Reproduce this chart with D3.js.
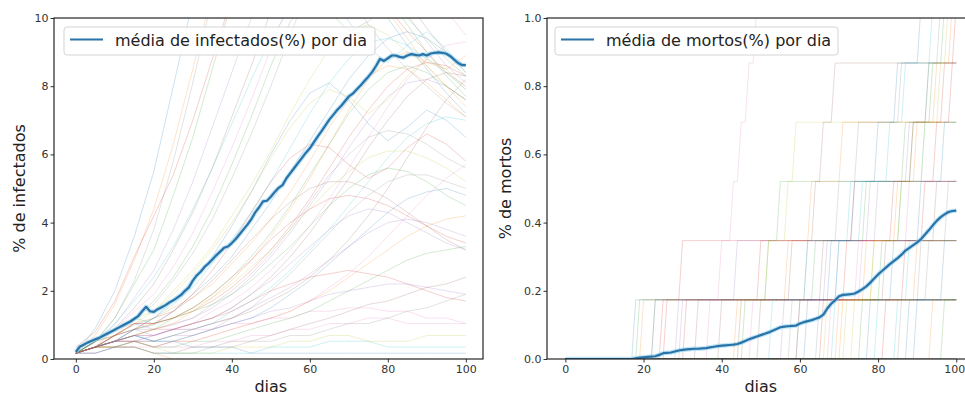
<!DOCTYPE html>
<html><head><meta charset="utf-8">
<script src="https://cdn.jsdelivr.net/npm/d3@7"></script>
<style>
html,body{margin:0;padding:0;background:#fff;}
svg{display:block;font-family:"DejaVu Sans",sans-serif;}
</style></head>
<body><svg id="c" width="965" height="397"></svg>
<script>
// ---------- DATA ----------
const days = d3.range(0, 101);                       // 0..100
const sampleDays = [0,5,10,15,20,25,30,35,40,45,50,55,60,65,70,75,80,85,90,95,100];
const xTicks = [0,20,40,60,80,100];
const yTicksInf = [0,2,4,6,8,10];
const yTicksDead = [0,0.2,0.4,0.6,0.8,1.0];
const legendInf = "média de infectados(%) por dia";
const legendDead = "média de mortos(%) por dia";
const xLabel = "dias";
const yLabelInf = "% de infectados";
const yLabelDead = "% de mortos";
const deathStep = 0.1736;   // one death in % of population

const meanInfected = [0.21,0.36,0.42,0.48,0.53,0.58,0.62,0.68,0.74,0.80,
 0.86,0.92,0.98,1.04,1.10,1.18,1.26,1.40,1.53,1.40,
 1.38,1.46,1.52,1.58,1.66,1.72,1.80,1.88,2.00,2.10,
 2.30,2.45,2.56,2.70,2.80,2.92,3.04,3.15,3.26,3.30,
 3.40,3.52,3.66,3.80,3.94,4.10,4.30,4.45,4.62,4.64,
 4.76,4.90,5.02,5.10,5.30,5.45,5.60,5.75,5.90,6.05,
 6.18,6.35,6.52,6.68,6.85,7.02,7.16,7.30,7.42,7.56,
 7.70,7.78,7.90,8.02,8.15,8.28,8.42,8.60,8.80,8.74,
 8.82,8.90,8.90,8.86,8.84,8.90,8.94,8.92,8.90,8.94,
 8.90,8.96,8.98,8.99,8.98,8.95,8.88,8.78,8.68,8.62,8.62];

const meanDeaths = [0,0,0,0,0,0,0,0,0,0,
 0,0,0,0,0,0,0,0,0.002,0.004,
 0.005,0.006,0.007,0.008,0.012,0.017,0.018,0.019,0.022,0.025,
 0.027,0.028,0.029,0.030,0.030,0.031,0.032,0.034,0.036,0.038,
 0.039,0.040,0.041,0.042,0.044,0.048,0.053,0.058,0.062,0.066,
 0.070,0.074,0.078,0.083,0.088,0.093,0.095,0.096,0.097,0.098,
 0.104,0.108,0.111,0.114,0.118,0.122,0.130,0.148,0.162,0.172,
 0.184,0.188,0.189,0.190,0.192,0.198,0.205,0.213,0.224,0.236,
 0.248,0.258,0.268,0.278,0.287,0.296,0.306,0.318,0.326,0.334,
 0.342,0.352,0.365,0.378,0.392,0.405,0.416,0.424,0.431,0.434,0.435];

// individual runs: infected % at sampleDays
const infectedRuns = [
 [.17,.9,2.0,3.6,5.5,8.0,10.5,13,15,16,16,15,14,13,12,11,10,9.2,8.5,7.8,7.2],
 [.17,.7,1.6,2.9,4.4,6.3,8.5,10.8,13,14.5,15,14.8,14,13,12,11,10.2,9.4,8.6,8.0,7.4],
 [.17,.5,1.2,2.2,3.2,4.8,6.5,8.5,10.5,12.5,14,14.5,14.2,13.5,12.6,11.6,10.6,9.8,9.0,8.3,7.7],
 [.35,.8,1.7,3.0,4.2,5.4,7.0,8.8,10.6,12.2,13.4,14,13.8,13.1,12.2,11.2,10.3,9.6,9.0,8.4,8.0],
 [.17,.5,1.0,1.8,2.6,3.8,5.2,6.8,8.4,10.0,11.8,13,13.6,13.5,12.8,11.9,11,10.1,9.3,8.6,8.1],
 [.17,.35,.9,1.5,2.2,3.2,4.3,5.6,7.1,8.6,10.2,11.6,12.6,13,12.8,12.1,11.3,10.5,9.7,9.0,8.4],
 [.17,.52,.87,1.4,1.9,2.7,3.7,4.9,6.2,7.6,9.1,10.6,12,13,13.4,13.2,12.6,11.8,11,10.2,9.5],
 [.17,.35,.7,1.2,1.6,2.3,3.1,4.1,5.3,6.6,8.0,9.5,11,12.4,13.5,14,13.8,13.2,12.4,11.6,10.8],
 [.17,.52,.87,1.2,1.4,2.0,2.6,3.3,4.2,5.1,6.1,7.2,8.2,9.1,9.6,9.8,9.5,9.0,8.6,8.0,7.6],
 [.17,.35,.69,1.0,1.2,1.6,2.1,2.8,3.5,4.3,5.2,6.2,7.2,8.1,8.8,9.3,9.4,9.2,8.8,8.4,7.9],
 [.17,.35,.52,.87,1.0,1.4,1.9,2.4,3.0,3.8,4.6,5.5,6.4,7.3,8.2,8.9,9.4,9.6,9.4,9.0,8.6],
 [.17,.52,.69,1.04,1.2,1.5,1.8,2.2,2.8,3.4,4.1,4.9,5.8,6.8,7.6,8.3,8.6,8.5,8.1,7.6,7.1],
 [.17,.35,.52,.69,.87,1.2,1.5,1.9,2.4,3.0,3.7,4.5,5.4,6.3,7.2,7.9,8.4,8.6,8.4,8.0,7.6],
 [.17,.35,.69,.87,1.04,1.2,1.4,1.7,2.1,2.6,3.2,3.9,4.7,5.6,6.5,7.3,8.0,8.5,8.7,8.6,8.3],
 [.17,.52,.87,1.04,.87,1.0,1.2,1.5,1.9,2.4,3.0,3.7,4.5,5.3,6.2,7.0,7.7,8.1,8.2,8.0,7.6],
 [.17,.35,.52,.69,.69,.87,1.04,1.2,1.5,1.9,2.4,3.0,3.7,4.5,5.3,6.2,7.0,7.7,8.2,8.4,8.3],
 [.17,.35,.52,.52,.69,.87,1.04,1.4,1.7,2.1,2.6,3.2,3.9,4.7,5.6,6.5,7.4,8.2,8.8,9.2,9.3],
 [.17,.35,.69,.87,.87,1.04,1.2,1.6,2.0,2.5,3.1,3.8,4.6,5.4,6.0,6.5,6.7,6.6,6.3,5.9,5.6],
 [.17,.52,.69,.87,1.04,1.2,1.5,1.8,2.2,2.7,3.2,3.8,4.4,5.0,5.5,5.9,6.1,6.1,5.9,5.6,5.2],
 [.17,.35,.52,.69,.52,.69,.87,1.04,1.4,1.7,2.1,2.6,3.2,3.8,4.5,5.2,5.9,6.5,6.9,7.1,7.0],
 [.17,.35,.52,.69,.52,.52,.69,.87,1.04,1.2,1.5,1.9,2.3,2.8,3.3,3.8,4.3,4.7,4.9,5.0,4.8],
 [.17,.35,.52,.52,.35,.52,.52,.69,.87,1.04,1.2,1.4,1.7,2.0,2.4,2.8,3.2,3.6,3.9,4.1,4.2],
 [.17,.35,.35,.52,.35,.35,.52,.52,.69,.87,1.04,1.2,1.4,1.7,2.0,2.3,2.6,2.9,3.1,3.2,3.3],
 [.17,.35,.52,.69,.87,.87,1.04,1.2,1.4,1.7,2.0,2.2,2.4,2.5,2.6,2.5,2.4,2.2,2.0,1.8,1.7],
 [.17,.17,.35,.52,.52,.69,.69,.87,1.04,1.2,1.4,1.5,1.7,1.9,2.0,2.1,2.2,2.2,2.1,2.0,1.9],
 [.17,.35,.35,.35,.17,.17,.35,.35,.52,.52,.69,.87,1.04,1.2,1.4,1.6,1.7,1.9,2.1,2.2,2.4],
 [.17,.35,.52,.52,.35,.35,.35,.52,.52,.69,.69,.87,.87,1.04,1.04,1.2,1.2,1.04,1.04,1.04,1.04],
 [.17,.17,.35,.35,.17,.17,.17,.35,.35,.52,.52,.69,.69,.87,1.04,1.04,1.2,1.4,1.5,1.7,1.9],
 [.17,.35,.35,.52,.35,.17,.17,.17,.35,.35,.35,.52,.52,.69,.69,.52,.52,.52,.69,.69,.69],
 [.17,.17,.35,.35,.17,.17,.17,.17,.17,.17,.35,.35,.35,.52,.52,.52,.35,.35,.35,.35,.35],
 [.17,.35,.52,.69,.52,.52,.35,.35,.35,.17,.17,.17,.17,.17,.17,.17,.17,.17,.17,.17,.17],
 [.17,.35,.35,.35,.17,0,0,0,0,0,0,0,0,0,0,0,0,0,0,0,0],
 [.17,.52,.87,1.2,1.04,1.2,1.4,1.6,1.9,2.3,2.8,3.3,3.9,4.5,5.0,5.4,5.6,5.5,5.2,4.8,4.5],
 [.17,.35,.69,1.04,1.04,1.2,1.5,1.9,2.4,2.9,3.5,4.0,4.4,4.7,4.8,4.7,4.5,4.2,3.9,3.6,3.4],
 [.17,.52,.69,.87,.69,.87,.87,1.04,1.2,1.5,1.8,2.1,2.5,2.9,3.3,3.7,4.0,4.1,4.0,3.8,3.6],
 [.17,.35,.52,.87,1.2,1.4,1.8,2.3,2.9,3.5,4.1,4.6,5.0,5.2,5.2,5.0,4.7,4.3,3.9,3.5,3.2],
 [.17,.35,.52,.69,.69,.87,.87,.87,1.04,1.04,1.2,1.2,1.4,1.4,1.5,1.5,1.4,1.4,1.2,1.2,1.04],
 [.17,.35,.52,.52,.35,.52,.69,.87,1.2,1.5,2.0,2.5,3.1,3.7,4.3,4.8,5.2,5.4,5.4,5.2,5.0],
 [.17,.35,.69,1.04,1.4,1.9,2.5,3.2,4.0,4.9,5.9,6.8,7.5,7.9,7.7,7.2,7.6,8.3,8.8,8.5,7.9],
 [.17,.52,1.04,1.7,2.4,3.3,4.4,5.6,6.9,8.2,9.4,10.3,10.8,10.6,9.9,9.1,8.7,9.2,9.6,9.1,8.4],
 [.17,.35,.52,.87,1.2,1.7,2.3,3.0,3.9,4.9,6.0,7.0,7.8,8.1,7.6,6.9,6.4,6.8,7.3,7.0,6.5],
 [.17,.35,.52,.69,.87,1.04,1.4,1.8,2.3,2.9,3.6,4.4,5.3,6.3,7.3,8.2,8.8,9.0,8.7,8.5,8.9],
 [.17,.52,.87,1.2,1.7,2.4,3.3,4.4,5.7,7.1,8.6,9.9,10.5,10.2,9.6,9.9,10.4,10.0,9.4,8.8,8.3],
 [.17,.35,.69,1.04,1.04,1.4,1.9,2.6,3.4,4.3,5.2,5.9,6.3,6.2,5.7,5.3,5.6,6.2,6.6,6.3,5.8],
 [.17,.35,.52,.52,.69,.87,1.04,1.2,1.5,1.9,2.3,2.8,3.3,3.8,4.2,4.4,4.3,4.0,3.7,3.4,3.2],
 [.17,.35,.35,.52,.52,.69,.87,1.04,1.2,1.4,1.7,2.0,2.4,2.9,3.5,4.2,5.0,5.9,6.8,7.6,8.2],
 [.17,.17,.35,.35,.35,.52,.52,.69,.87,1.04,1.2,1.4,1.7,2.1,2.5,3.0,3.6,4.2,4.8,5.3,5.7],
 [.17,.52,1.2,2.3,3.8,5.8,8.1,10.6,12.8,14,14.2,13.6,12.7,11.7,10.7,9.8,9.1,8.5,8.0,7.5,7.1]
];

// individual runs: the days on which each death happened
const deathDays = [
 [18],[20],[23],[26],[30],[34],[45],[60],[72],[85],[90],[94],[97],
 [25,30],[29,44],[40,66],[48,76],[65,93],[67,79],[80,88],[88,97],[70,90],
 [19,52,55],[31,50,74],[56,70,78],[60,82,95],[68,75,88],[86,91,98],
 [45,52,57,59],[53,62,73,92],[78,84,91,97],[44,57,63,71],
 [46,64,77,87,94],[66,72,84,89,97],[23,67,80,88,93],[50,58,64,66,69],
 [37,40,43,45,47,49,60],[58,62,70,75,86,96,98],[74,79,86,92,96,98],
 [69,70,76,83,87,94],[62,68,74,80,85,91,96],[71,77,85,90,95,99],
 [76,81,86,89,93,97],[82,87,92,95,99,100],
 [],[],[],[],[],[]
];

const palette = ["#1f77b4","#ff7f0e","#2ca02c","#d62728","#9467bd","#8c564b","#e377c2","#7f7f7f","#bcbd22","#17becf"];

// ---------- DRAW ----------
const svg = d3.select("#c");
svg.append("rect").attr("width",965).attr("height",397).attr("fill","#fff");

function panel(cfg){
  const x = d3.scaleLinear().domain(cfg.xDomain).range(cfg.xRange);
  const y = d3.scaleLinear().domain(cfg.yDomain).range([359,18]);
  const g = svg.append("g");
  const clipId = "clip"+cfg.id;
  svg.append("clipPath").attr("id",clipId).append("rect")
    .attr("x",cfg.xRange[0]).attr("y",18)
    .attr("width",cfg.xRange[1]-cfg.xRange[0]).attr("height",341);
  const lines = g.append("g").attr("clip-path",`url(#${clipId})`);
  const lineGen = d3.line().x(d=>x(d[0])).y(d=>y(d[1]));
  cfg.runs.forEach((r,i)=>{
    lines.append("path").attr("d",lineGen(r)).attr("fill","none")
      .attr("stroke",palette[i%10]).attr("stroke-width",1).attr("stroke-opacity",0.22);
  });
  const meanPts = days.map((d,i)=>[d,cfg.mean[i]]);
  lines.append("path").attr("d",lineGen(meanPts)).attr("fill","none")
    .attr("stroke","#8fd0ee").attr("stroke-width",4.5).attr("stroke-opacity",0.55)
    .attr("stroke-linejoin","round");
  lines.append("path").attr("d",lineGen(meanPts)).attr("fill","none")
    .attr("stroke","#2873a8").attr("stroke-width",2.2).attr("stroke-linejoin","round");

  // axes
  const ax = g.append("g").attr("transform","translate(0,359)")
    .call(d3.axisBottom(x).tickValues(xTicks).tickSize(3.5).tickPadding(3));
  const ay = g.append("g").attr("transform",`translate(${cfg.xRange[0]},0)`)
    .call(d3.axisLeft(y).tickValues(cfg.yTicks).tickSize(3.5).tickPadding(2).tickFormat(cfg.fmt));
  [ax,ay].forEach(a=>{
    a.select(".domain").remove();
    a.selectAll("text").attr("font-size","11px").attr("fill","#333").attr("font-family","DejaVu Sans");
    a.selectAll("line").attr("stroke","#333");
  });
  if (cfg.shiftLast) ax.selectAll(".tick:last-of-type text").attr("dx", -cfg.shiftLast);
  // frame
  g.append("rect").attr("x",cfg.xRange[0]).attr("y",18)
    .attr("width",cfg.xRange[1]-cfg.xRange[0]).attr("height",341)
    .attr("fill","none").attr("stroke","#111").attr("stroke-width",1.1);

  // labels
  g.append("text").attr("x",x(50)).attr("y",392)
    .attr("text-anchor","middle").attr("font-size","16px").attr("fill","#222").text(xLabel);
  g.append("text").attr("transform",`translate(${cfg.yLabelX},188.5) rotate(-90)`)
    .attr("text-anchor","middle").attr("font-size","16px").attr("fill","#222").text(cfg.yLabel);

  // legend
  const lg = g.append("g");
  lg.append("rect").attr("x",cfg.legX).attr("y",27).attr("width",cfg.legW).attr("height",28)
    .attr("rx",3).attr("fill","#fff").attr("fill-opacity",0.85)
    .attr("stroke","#d4d4d4").attr("stroke-width",1);
  lg.append("line").attr("x1",cfg.legX+6).attr("x2",cfg.legX+39).attr("y1",39.5).attr("y2",39.5)
    .attr("stroke","#2873a8").attr("stroke-width",2.2);
  lg.append("text").attr("x",cfg.legX+51).attr("y",46).attr("font-size","16px").attr("fill","#222")
    .text(cfg.legend);
}

const infRuns = infectedRuns.map(r=>r.map((v,i)=>[sampleDays[i],v]));
const deadRuns = deathDays.map(dd=>days.map(d=>[d, dd.filter(k=>k<=d).length*deathStep]));

panel({id:"a", xDomain:[-5.6,104.4], xRange:[54,483], yDomain:[0,10], yTicks:yTicksInf,
  fmt:d3.format("d"), runs:infRuns, mean:meanInfected, yLabel:yLabelInf, yLabelX:25,
  legend:legendInf, legX:64, legW:311});
panel({id:"b", xDomain:[-4.7,105.3], xRange:[547,977], yDomain:[0,1], yTicks:yTicksDead,
  fmt:d3.format(".1f"), runs:deadRuns, mean:meanDeaths, yLabel:yLabelDead, yLabelX:511,
  legend:legendDead, legX:555, legW:283, shiftLast:2});
</script></body></html>
